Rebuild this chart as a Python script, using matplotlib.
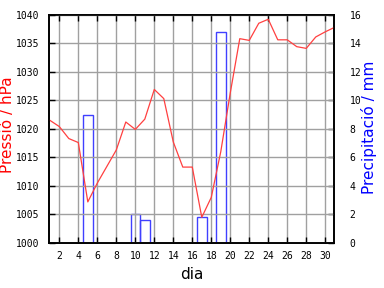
import numpy as np
import matplotlib
matplotlib.use("Agg")
import matplotlib.pyplot as plt

# daily values
days = list(range(1, 32))
pressure = [1021.5, 1020.4, 1018.3, 1017.6, 1007.2, 1010.5, 1013.4, 1016.3,
            1021.2, 1019.9, 1021.7, 1026.9, 1025.3, 1017.7, 1013.3, 1013.3,
            1004.5, 1008.0, 1016.0, 1026.3, 1035.8, 1035.5, 1038.5, 1039.2,
            1035.6, 1035.6, 1034.4, 1034.1, 1036.1, 1037.0, 1037.8]
rain_days = [5, 10, 11, 17, 19]
rain = [9.0, 2.0, 1.6, 1.8, 14.8]
xticks = list(range(2, 31, 2))
p_ticks = list(range(1000, 1041, 5))
r_ticks = list(range(0, 17, 2))

mono = "DejaVu Sans Mono"

fig = plt.figure(figsize=(3.84, 2.88), dpi=100)
ax = fig.add_axes([0.1285, 0.15625, 0.742, 0.7927])
ax2 = ax.twinx()

# precipitation bars behind the pressure line
ax2.bar(rain_days, rain, width=1.0, fill=False, edgecolor="#4040ff", linewidth=1.0)
ax2.set_ylim(0, 16)
ax2.set_yticks(r_ticks)

ax.plot(days, pressure, color="#ff4040", linewidth=0.9)
ax.set_xlim(0.95, 30.95)
ax.set_ylim(1000, 1040)
ax.set_xticks(xticks)
ax.set_yticks(p_ticks)
ax.grid(True, color="#a0a0a0", linewidth=1.0)
ax.set_axisbelow(True)
ax.set_zorder(ax2.get_zorder() + 1)
ax.patch.set_visible(False)

ax.tick_params(axis="both", direction="in", length=4, width=1, labelsize=7,
               top=True, pad=6)
ax.tick_params(axis="y", pad=7)
ax2.tick_params(axis="y", direction="in", length=4, width=1, labelsize=7, pad=11)
for lab in ax.get_xticklabels() + ax.get_yticklabels() + ax2.get_yticklabels():
    lab.set_family(mono)

for a in (ax, ax2):
    for s in a.spines.values():
        s.set_linewidth(1.2)

ax.set_xlabel("dia", fontsize=11, labelpad=4)
fig.text(0.019, 0.566, "Pressió / hPa", rotation=90, color="red", fontsize=11,
         ha="center", va="center")
fig.text(0.962, 0.557, "Precipitació / mm", rotation=90, color="blue", fontsize=11,
         ha="center", va="center")

fig.savefig("out.png", dpi=100)
